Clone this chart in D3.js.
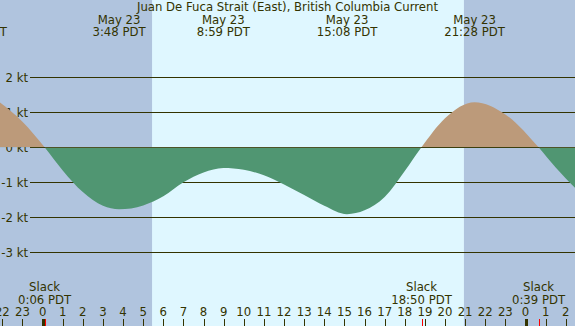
<!DOCTYPE html>
<html>
<head>
<meta charset="utf-8">
<script src="https://cdn.jsdelivr.net/npm/d3@7"></script>
<style>
body { margin: 0; background: #ffffff; }
text { font-family: "DejaVu Sans", sans-serif; font-size: 11.7px; fill: #333300; }
</style>
</head>
<body>
<script>
var width = 575, height = 326;

// current speed (kt), hours since midnight May 23
var hours  = [-2.3, -1, 0.1, 1, 2, 3, 3.8, 5, 6, 7, 8, 8.98, 10, 11, 12, 13, 14, 15.13, 16, 17, 18, 18.83, 20, 21.47, 23, 24.65, 25.5, 26.6];
var speeds = [1.36, 0.73, 0, -0.66, -1.28, -1.67, -1.77, -1.66, -1.40, -1.00, -0.72, -0.59, -0.64, -0.80, -1.06, -1.36, -1.67, -1.91, -1.80, -1.42, -0.68, 0, 0.83, 1.29, 0.94, 0, -0.58, -1.24];

var peakTimes  = [-3.28, 3.8, 8.983, 15.133, 21.467];
var peakDates  = ["May 22", "May 23", "May 23", "May 23", "May 23"];
var peakLabels = ["20:43 PDT", "3:48 PDT", "8:59 PDT", "15:08 PDT", "21:28 PDT"];

var slackTimes  = [0.1, 18.833, 24.65];
var slackLabels = ["0:06 PDT", "18:50 PDT", "0:39 PDT"];

var nightStarts = [-4, 20.94];
var nightEnds   = [5.44, 28];

var speedTicks = [-3, -2, -1, 0, 1, 2];
var hourTicks  = d3.range(-2, 27);
var midnights  = [0, 24];

var title = "Juan De Fuca Strait (East), British Columbia Current";

var x = d3.scaleLinear()
		.domain([-2.117, 26.46])
		.range([0, width]);

var y = d3.scaleLinear()
		.domain([0, 1])
		.range([147.3, 112.3]);

var svg = d3.select("body")
	.append("svg")
		.attr("width", width)
		.attr("height", height);

// day background, then night bands
svg.append("rect")
		.attr("x", 0)
		.attr("y", 0)
		.attr("width", width)
		.attr("height", height)
		.attr("fill", "#dff7ff");

svg.append("g")
	.selectAll("rect")
		.data(d3.zip(nightStarts, nightEnds))
	.enter()
	.append("rect")
		.attr("x", function(d) { return x(d[0]); })
		.attr("y", 0)
		.attr("width", function(d) { return x(d[1]) - x(d[0]); })
		.attr("height", height)
		.attr("fill", "#b0c4de");

// speed grid
var grid = svg.append("g");
grid.selectAll("line")
		.data(speedTicks)
	.enter()
	.append("line")
		.attr("x1", 30)
		.attr("x2", width)
		.attr("y1", function(d) { return Math.round(y(d)) + 0.5; })
		.attr("y2", function(d) { return Math.round(y(d)) + 0.5; })
		.attr("stroke", "#333300")
		.attr("stroke-width", 1);

grid.selectAll("text")
		.data(speedTicks)
	.enter()
	.append("text")
		.attr("x", 28)
		.attr("y", function(d) { return y(d) + 4.3; })
		.attr("text-anchor", "end")
		.text(function(d) { return d + " kt"; });

// flood / ebb fills, split at zero with clip paths
var defs = svg.append("defs");
defs.append("clipPath")
		.attr("id", "above")
	.append("rect")
		.attr("x", 0)
		.attr("y", 0)
		.attr("width", width)
		.attr("height", y(0));
defs.append("clipPath")
		.attr("id", "below")
	.append("rect")
		.attr("x", 0)
		.attr("y", y(0) + 0.5)
		.attr("width", width)
		.attr("height", height);

var points = d3.zip(hours, speeds);
var area = d3.area()
		.x(function(d) { return x(d[0]); })
		.y0(y(0))
		.y1(function(d) { return y(d[1]); })
		.curve(d3.curveMonotoneX);

svg.append("path")
		.datum(points)
		.attr("clip-path", "url(#above)")
		.attr("fill", "#bc9a7a")
		.attr("d", area);

svg.append("path")
		.datum(points)
		.attr("clip-path", "url(#below)")
		.attr("fill", "#509672")
		.attr("d", area);

// title and peak labels
svg.append("text")
		.attr("x", width / 2)
		.attr("y", 11.2)
		.attr("text-anchor", "middle")
		.text(title);

var peaks = svg.append("g")
	.selectAll("g")
		.data(d3.range(peakTimes.length))
	.enter()
	.append("g");
peaks.append("text")
		.attr("x", function(i) { return x(peakTimes[i]); })
		.attr("y", 23.7)
		.attr("text-anchor", "middle")
		.text(function(i) { return peakDates[i]; });
peaks.append("text")
		.attr("x", function(i) { return x(peakTimes[i]); })
		.attr("y", 36.2)
		.attr("text-anchor", "middle")
		.text(function(i) { return peakLabels[i]; });

// slack labels
var slacks = svg.append("g")
	.selectAll("g")
		.data(d3.range(slackTimes.length))
	.enter()
	.append("g");
slacks.append("text")
		.attr("x", function(i) { return x(slackTimes[i]); })
		.attr("y", 291.2)
		.attr("text-anchor", "middle")
		.text("Slack");
slacks.append("text")
		.attr("x", function(i) { return x(slackTimes[i]); })
		.attr("y", 303.6)
		.attr("text-anchor", "middle")
		.text(function(i) { return slackLabels[i]; });

// hour axis
var axis = svg.append("g");
axis.selectAll("text")
		.data(hourTicks)
	.enter()
	.append("text")
		.attr("x", function(d) { return x(d); })
		.attr("y", 315.6)
		.attr("text-anchor", "middle")
		.text(function(d) { return (d + 24) % 24; });

axis.selectAll("line.hour")
		.data(hourTicks)
	.enter()
	.append("line")
		.attr("class", "hour")
		.attr("x1", function(d) { return Math.round(x(d)) + 0.5; })
		.attr("x2", function(d) { return Math.round(x(d)) + 0.5; })
		.attr("y1", 319)
		.attr("y2", height)
		.attr("stroke", "#333300")
		.attr("stroke-width", 1);

axis.selectAll("rect.midnight")
		.data(midnights)
	.enter()
	.append("rect")
		.attr("class", "midnight")
		.attr("x", function(d) { return Math.round(x(d)) - 1; })
		.attr("y", 319)
		.attr("width", 3)
		.attr("height", height - 319)
		.attr("fill", "#333300");

axis.selectAll("line.slack")
		.data(slackTimes)
	.enter()
	.append("line")
		.attr("class", "slack")
		.attr("x1", function(d) { return Math.round(x(d)) + 0.5; })
		.attr("x2", function(d) { return Math.round(x(d)) + 0.5; })
		.attr("y1", 319)
		.attr("y2", height)
		.attr("stroke", "#ff0000")
		.attr("stroke-width", 1);
</script>
</body>
</html>
